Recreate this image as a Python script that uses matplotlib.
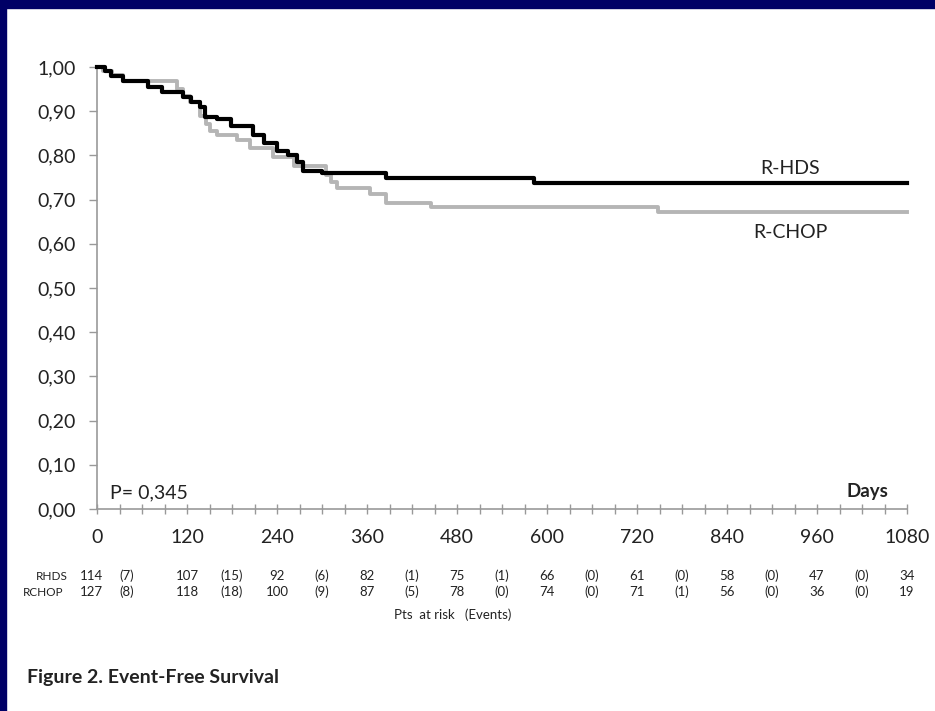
import numpy as np
import matplotlib
matplotlib.use('Agg')
import matplotlib.pyplot as plt
from matplotlib.patches import Rectangle

plt.rcParams['font.family'] = ['Lato', 'DejaVu Sans']

# step curves (day, survival)
rhds_t = [0, 10, 18, 35, 68, 87, 115, 125, 137, 144, 160, 178, 208, 222, 240, 254, 266, 274, 300, 385, 582, 1080]
rhds_s = [1.0, 0.99, 0.98, 0.968, 0.955, 0.943, 0.933, 0.92, 0.91, 0.888, 0.882, 0.867, 0.846, 0.829, 0.811, 0.801, 0.784, 0.765, 0.760, 0.748, 0.737, 0.737]
rchop_t = [0, 8, 20, 35, 107, 115, 124, 137, 145, 150, 160, 187, 204, 235, 262, 305, 312, 320, 364, 385, 445, 748, 1080]
rchop_s = [1.0, 0.99, 0.982, 0.968, 0.95, 0.935, 0.92, 0.89, 0.87, 0.855, 0.846, 0.835, 0.816, 0.797, 0.775, 0.755, 0.74, 0.726, 0.713, 0.693, 0.684, 0.673, 0.673]

# numbers at risk table
risk_days = [0, 120, 240, 360, 480, 600, 720, 840, 960, 1080]
rhds_risk = [114, 107, 92, 82, 75, 66, 61, 58, 47, 34]
rhds_ev = [7, 15, 6, 1, 1, 0, 0, 0, 0]
rchop_risk = [127, 118, 100, 87, 78, 74, 71, 56, 36, 19]
rchop_ev = [8, 18, 9, 5, 0, 0, 1, 0, 0]

W, H = 935, 711
fig = plt.figure(figsize=(W / 100, H / 100), dpi=100)
fig.patch.set_facecolor('white')

# navy frame (top and left)
navy = '#000066'
fig.patches.append(Rectangle((0, 1 - 8 / H), 1, 8 / H, transform=fig.transFigure, color=navy, zorder=0))
fig.patches.append(Rectangle((0, 0), 6 / W, 1, transform=fig.transFigure, color=navy, zorder=0))

def fx(px):
    return px / W

def fy(py):
    return 1 - py / H

ax = fig.add_axes([fx(97), fy(509), fx(907) - fx(97), fy(67) - fy(509)])
ax.step(rhds_t, rhds_s, where='post', color='black', lw=3.0, clip_on=False, zorder=3)
ax.step(rchop_t, rchop_s, where='post', color='#b5b5b5', lw=2.8, clip_on=False, zorder=2)

ax.set_xlim(0, 1080)
ax.set_ylim(0, 1.0)
for s in ['top', 'right']:
    ax.spines[s].set_visible(False)
for s in ['left', 'bottom']:
    ax.spines[s].set_color('#999999')
    ax.spines[s].set_linewidth(1.2)

yt = np.arange(0, 1.01, 0.1)
ax.set_yticks(yt)
ax.set_yticklabels(['{:.2f}'.format(v).replace('.', ',') for v in yt])
xt = np.arange(0, 1081, 30)
ax.set_xticks(xt)
ax.set_xticklabels([str(v) if v % 120 == 0 else '' for v in xt])
ax.tick_params(axis='y', direction='out', length=6, width=1, color='#999999', pad=9, labelsize=14, labelcolor='#222222')
ax.tick_params(axis='x', direction='inout', length=7, width=1, color='#999999', pad=11, labelsize=14, labelcolor='#222222')

fig.text(fx(110), fy(493), 'P= 0,345', fontsize=14, va='center', ha='left', color='#222222')
fig.text(fx(888), fy(492), 'Days', fontsize=13.5, fontweight='bold', va='center', ha='right', color='#222222')
fig.text(fx(790), fy(168), 'R-HDS', fontsize=14, va='center', ha='center', color='#222222')
fig.text(fx(790), fy(233), 'R-CHOP', fontsize=14, va='center', ha='center', color='#222222')

# risk table
def dx(day):
    return fx(97 + day * 810 / 1080)

fs = 9.5
fig.text(fx(36), fy(576), 'RHDS', fontsize=8.5, va='center', ha='left', color='#222222')
fig.text(fx(23), fy(592), 'RCHOP', fontsize=8.5, va='center', ha='left', color='#222222')
for i, d in enumerate(risk_days):
    off = -8 if i == 0 else 0
    fig.text(dx(d + off), fy(576), str(rhds_risk[i]), fontsize=fs, va='center', ha='center', color='#222222')
    fig.text(dx(d + off), fy(592), str(rchop_risk[i]), fontsize=fs, va='center', ha='center', color='#222222')
for i in range(len(rhds_ev)):
    d = risk_days[i] + 60 - (20 if i == 0 else 0)
    fig.text(dx(d), fy(576), '({})'.format(rhds_ev[i]), fontsize=fs, va='center', ha='center', color='#222222')
    fig.text(dx(d), fy(592), '({})'.format(rchop_ev[i]), fontsize=fs, va='center', ha='center', color='#222222')
fig.text(fx(453), fy(615), 'Pts  at risk   (Events)', fontsize=fs, va='center', ha='center', color='#222222')

fig.text(fx(27), fy(678), 'Figure 2. Event-Free Survival', fontsize=14, fontweight='bold', va='center', ha='left', color='#222222')

fig.savefig('out.png', dpi=100)
